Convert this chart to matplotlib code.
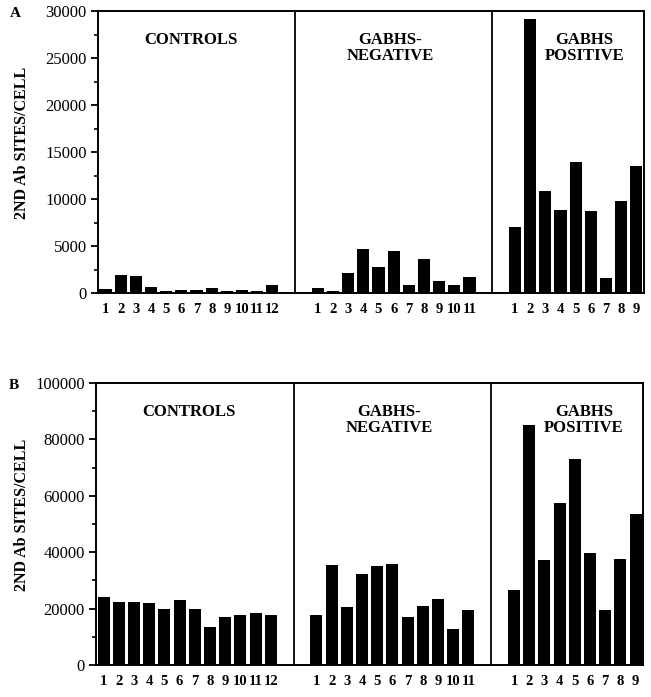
import matplotlib
matplotlib.use('Agg')
import matplotlib.pyplot as plt
from matplotlib.ticker import MultipleLocator
import numpy as np

plt.rcParams['font.family'] = 'Liberation Serif'

groups = ['CONTROLS', 'GABHS-\nNEGATIVE', 'GABHS\nPOSITIVE']

# panel A (2ND Ab sites/cell)
a_controls = [400, 1950, 1800, 650, 200, 350, 350, 500, 200, 350, 250, 800]
a_negative = [550, 250, 2100, 4700, 2750, 4450, 850, 3600, 1300, 850, 1750]
a_positive = [7000, 29100, 10900, 8800, 13950, 8700, 1600, 9800, 13500]

# panel B
b_controls = [24000, 22500, 22500, 22100, 19800, 23100, 19800, 13600, 17100, 17900, 18400, 17900]
b_negative = [17900, 35600, 20400, 32200, 35100, 35700, 17100, 20800, 23400, 12800, 19500]
b_positive = [26700, 85100, 37200, 57600, 73100, 39600, 19500, 37700, 53700]

starts = [0.5, 14.5, 27.5]
dividers = [13, 26]
title_x = [6.1, 19.3, 32.1]


def draw(ax, series, ymax, major, minor):
    ticks, labels = [], []
    for s0, vals in zip(starts, series):
        x = s0 + np.arange(len(vals))
        ax.bar(x, vals, width=0.8, color='black', align='center')
        ticks += list(x)
        labels += [str(i + 1) for i in range(len(vals))]
    for d in dividers:
        ax.axvline(d, color='black', lw=1.3)
    for tx, name in zip(title_x, groups):
        # single-line title sits at the level of the first line of the others
        ax.text(tx, 0.924, name, transform=ax.get_xaxis_transform(), ha='center',
                va='top', fontsize=12, fontweight='bold', linespacing=0.95)
    ax.set_xlim(0, 36)
    ax.set_ylim(0, ymax)
    ax.set_xticks(ticks)
    ax.set_xticklabels(labels, fontsize=10.5, fontweight='bold')
    ax.tick_params(axis='x', length=0, pad=7)
    ax.yaxis.set_major_locator(MultipleLocator(major))
    ax.yaxis.set_minor_locator(MultipleLocator(minor))
    ax.tick_params(axis='y', which='major', length=5, width=1.3, labelsize=12, pad=3)
    ax.tick_params(axis='y', which='minor', length=3, width=1.2)
    for sp in ax.spines.values():
        sp.set_linewidth(1.4)


fig = plt.figure(figsize=(6.51, 6.97), dpi=100)
axA = fig.add_axes([0.1505, 0.5796, 0.8385, 0.4046])
axB = fig.add_axes([0.1475, 0.0459, 0.8405, 0.4046])

draw(axA, [a_controls, a_negative, a_positive], 30000, 5000, 2500)
draw(axB, [b_controls, b_negative, b_positive], 100000, 20000, 10000)

fig.text(0.034, 0.795, '2ND Ab SITES/CELL', rotation=90, ha='center', va='center',
         fontsize=11.5, fontweight='bold')
fig.text(0.034, 0.262, '2ND Ab SITES/CELL', rotation=90, ha='center', va='center',
         fontsize=11.5, fontweight='bold')
fig.text(0.023, 0.981, 'A', ha='center', va='center', fontsize=11, fontweight='bold')
fig.text(0.021, 0.447, 'B', ha='center', va='center', fontsize=11, fontweight='bold')

fig.savefig('out.png', dpi=100)
